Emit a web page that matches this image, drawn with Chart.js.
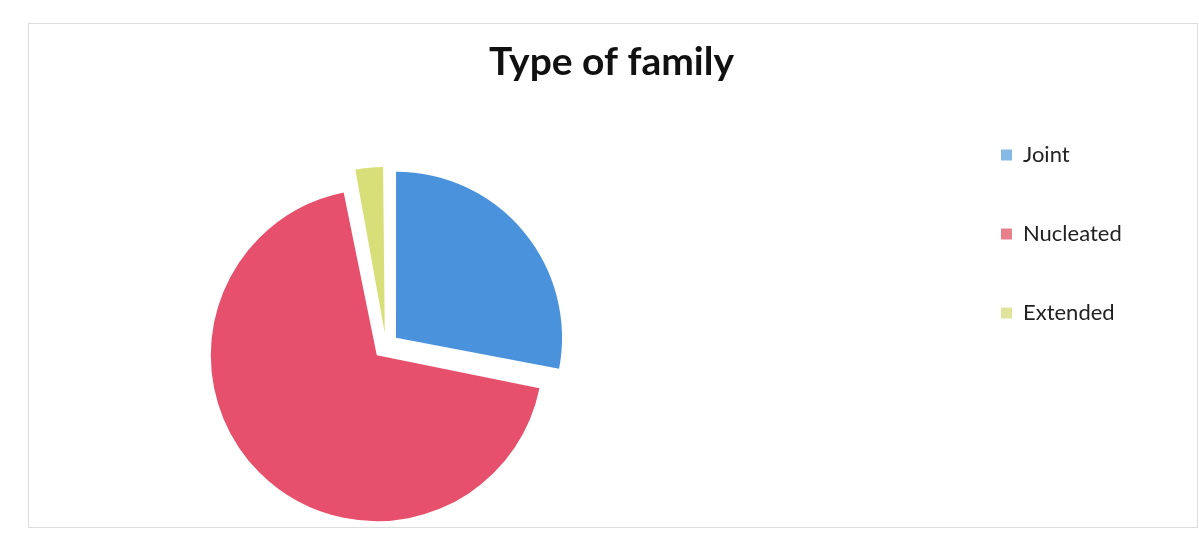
<!DOCTYPE html>
<html>
<head>
<meta charset="utf-8">
<script src="https://cdn.jsdelivr.net/npm/chart.js@4.4.0/dist/chart.umd.min.js"></script>
<style>
  html, body { margin: 0; padding: 0; background: #ffffff; }
  #wrap { position: relative; width: 1199px; height: 533px; overflow: hidden; }
  #frame { position: absolute; left: 28px; top: 23px; width: 1168px; height: 503px;
           border: 1px solid #dcdcdc; }
  #c { position: absolute; left: 0; top: 0; }
</style>
</head>
<body>
<div id="wrap">
  <div id="frame"></div>
  <canvas id="c" width="1199" height="533"></canvas>
</div>
<script>
// ---- data ----
const chartTitle = 'Type of family';
const categories = ['Joint', 'Nucleated', 'Extended'];
const values = [28, 69, 3];

// ---- styles ----
const sliceColors = ['#4a93dc', '#e6506c', '#d8df78'];
const legendColors = ['#86b9e6', '#e8808c', '#dfe39c'];
const explode = 52; // Chart.js draws offset/4 translation

const placePlugin = {
  id: 'place',
  afterLayout(chart) {
    const ca = chart.chartArea;
    const cx = 386, cy = 346, half = 180;
    ca.left = cx - half; ca.right = cx + half;
    ca.top = cy - half; ca.bottom = cy + half;
    ca.width = 2 * half; ca.height = 2 * half;
    const lg = chart.legend;
    const pad = lg.options.labels.padding;
    lg.left = 1001 - pad; lg.right = 1199;
    lg.top = 87; lg.bottom = 533;
    lg.width = lg.right - lg.left; lg.height = lg.bottom - lg.top;
  },
  afterDatasetsUpdate(chart) {
    // keep all exploded slices at the same radius
    const meta = chart.getDatasetMeta(0);
    meta.data.forEach(arc => {
      const off = (arc.options.offset || 0) / 4;
      const fix = 1 - Math.sin(Math.min(Math.PI, arc.circumference || 0));
      arc.outerRadius = arc.outerRadius - off * fix;
    });
  }
};

new Chart(document.getElementById('c'), {
  type: 'pie',
  data: {
    labels: categories,
    datasets: [{
      data: values,
      backgroundColor: sliceColors,
      borderWidth: 0,
      offset: explode
    }]
  },
  options: {
    responsive: false,
    animation: false,
    radius: 166,
    layout: { padding: { left: 24, right: 0, top: 0, bottom: 0 } },
    plugins: {
      title: {
        display: true,
        text: chartTitle,
        color: '#111111',
        font: { family: 'Lato', size: 39, weight: 'bold' },
        padding: { top: 39, bottom: 10 }
      },
      legend: {
        position: 'right',
        align: 'start',
        labels: {
          boxWidth: 11,
          boxHeight: 11,
          padding: 57,
          color: '#222222',
          font: { family: 'Lato', size: 22 },
          generateLabels(chart) {
            const items = Chart.overrides.pie.plugins.legend.labels.generateLabels(chart);
            items.forEach((it, i) => {
              it.fillStyle = legendColors[i];
              it.strokeStyle = legendColors[i];
              it.lineWidth = 0;
            });
            return items;
          }
        }
      },
      tooltip: { enabled: false }
    }
  },
  plugins: [placePlugin]
});
</script>
</body>
</html>
